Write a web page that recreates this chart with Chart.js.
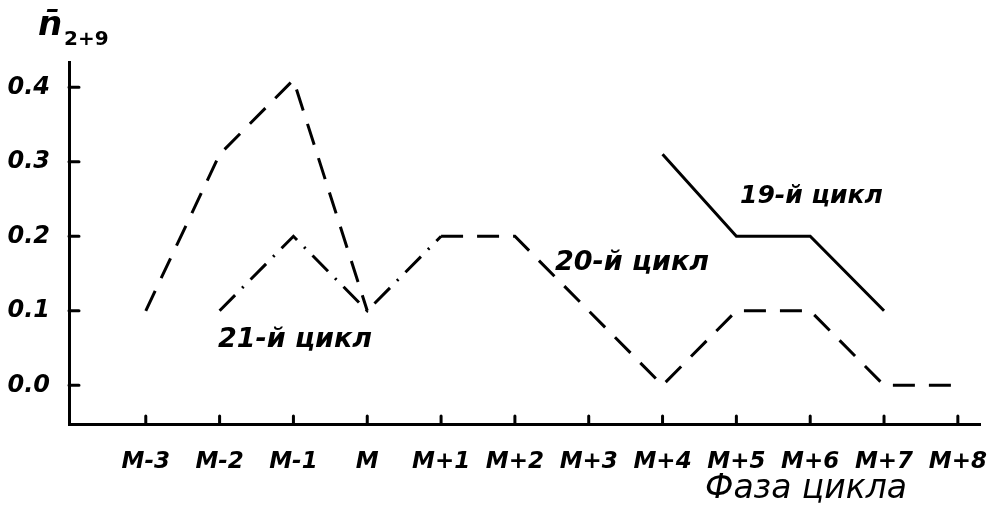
<!DOCTYPE html>
<html>
<head>
<meta charset="utf-8">
<script src="https://cdn.jsdelivr.net/npm/chart.js@4/dist/chart.umd.min.js"></script>
<style>
  html, body { margin: 0; padding: 0; background: #fff; }
  #wrap { width: 995px; height: 506px; }
</style>
</head>
<body>
<div id="wrap"><canvas id="c"></canvas></div>
<script>
// фазы цикла
const phases = ['M-3','M-2','M-1','M','M+1','M+2','M+3','M+4','M+5','M+6','M+7','M+8'];
const yTicks = [0.0, 0.1, 0.2, 0.3, 0.4];
// значения по циклам (null = нет данных)
const cycle19 = [null, null, null, null, null, null, null, 0.31, 0.2, 0.2, 0.1, null];
const cycle20 = [0.1, 0.31, 0.41, 0.1, 0.2, 0.2, 0.1, 0.0, 0.1, 0.1, 0.0, 0.0];
const cycle21 = [null, 0.1, 0.2, 0.1, 0.2, null, null, null, null, null, null, null];

const FONT = '"DejaVu Sans", sans-serif';

function pts(arr) {
    return arr.map((v, i) => ({x: i, y: v}));
}

// засечки внутрь и подписи
const extras = {
    id: 'extras',
    afterDraw(chart) {
        const ctx = chart.ctx;
        const xs = chart.scales.x, ys = chart.scales.y;
        ctx.save();
        ctx.strokeStyle = '#000';
        ctx.lineWidth = 3;
        ctx.lineCap = 'round';
        ctx.beginPath();
        yTicks.forEach(v => {
            const y = ys.getPixelForValue(v);
            ctx.moveTo(xs.left, y);
            ctx.lineTo(xs.left + 10, y);
        });
        phases.forEach((p, i) => {
            const x = xs.getPixelForValue(i);
            ctx.moveTo(x, ys.bottom);
            ctx.lineTo(x, ys.bottom - 8);
        });
        ctx.stroke();

        ctx.fillStyle = '#000';
        ctx.textBaseline = 'middle';
        ctx.textAlign = 'left';
        ctx.font = 'italic bold 25px ' + FONT;
        ctx.fillText('19-й цикл', 740, 196);
        ctx.font = 'italic bold 27px ' + FONT;
        ctx.fillText('20-й цикл', 555, 263);
        ctx.fillText('21-й цикл', 218, 340);

        ctx.textAlign = 'center';
        ctx.font = 'italic 33px ' + FONT;
        ctx.fillText('Фаза цикла', 806, 489);

        // обозначение оси Y
        ctx.textAlign = 'left';
        ctx.font = 'italic bold 34px ' + FONT;
        ctx.fillText('n\u0304', 38, 26);
        ctx.font = 'bold 20px ' + FONT;
        ctx.fillText('2+9', 64, 40);
        ctx.restore();
    }
};

const dsBase = {
    borderColor: '#000',
    borderWidth: 3,
    pointRadius: 0,
    fill: false,
    tension: 0,
    spanGaps: false
};

new Chart(document.getElementById('c'), {
    type: 'line',
    data: {
        datasets: [
            Object.assign({}, dsBase, {label: '19-й цикл', data: pts(cycle19)}),
            Object.assign({}, dsBase, {
                label: '20-й цикл',
                data: pts(cycle20),
                borderDash: [22, 14],
                // отрезок M..M+1 совпадает с 21-м циклом
                segment: {
                    borderColor: c => c.p0DataIndex === 3 ? 'rgba(0,0,0,0)' : '#000'
                }
            }),
            Object.assign({}, dsBase, {label: '21-й цикл', data: pts(cycle21), borderDash: [22, 10, 2, 10]})
        ]
    },
    options: {
        responsive: true,
        maintainAspectRatio: false,
        animation: false,
        layout: { padding: {top: 62, right: 15, left: 0, bottom: 0} },
        plugins: { legend: {display: false}, tooltip: {enabled: false} },
        scales: {
            x: {
                type: 'linear',
                min: -1.04,
                max: 11.3,
                afterBuildTicks: s => { s.ticks = phases.map((p, i) => ({value: i})); },
                afterFit: s => { s.height = 82; s.paddingLeft = 0; s.paddingRight = 0; },
                grid: {display: false, drawTicks: false},
                border: {display: true, color: '#000', width: 3},
                ticks: {
                    autoSkip: false,
                    maxRotation: 0,
                    padding: 24,
                    color: '#000',
                    font: {family: FONT, size: 23, style: 'italic', weight: 'bold'},
                    callback: v => phases[v]
                }
            },
            y: {
                min: -0.052,
                max: 0.434,
                afterBuildTicks: s => { s.ticks = yTicks.map(v => ({value: v})); },
                afterFit: s => { s.width = 69; s.paddingTop = 0; s.paddingBottom = 0; },
                grid: {display: false, drawTicks: false},
                border: {display: true, color: '#000', width: 3},
                ticks: {
                    padding: 19,
                    color: '#000',
                    font: {family: FONT, size: 24, style: 'italic', weight: 'bold'},
                    callback: v => v.toFixed(1)
                }
            }
        }
    },
    plugins: [extras]
});
</script>
</body>
</html>
